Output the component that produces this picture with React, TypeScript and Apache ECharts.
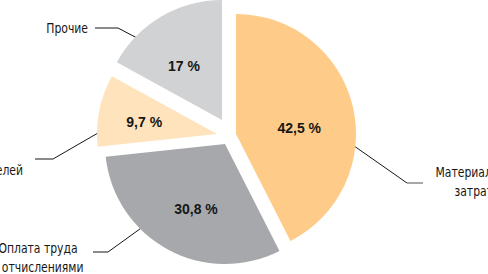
import React, { useEffect, useRef } from "react";
import * as echarts from "echarts";

// ---- data ----
const categories = [
  "Материальные\nзатраты",
  "Оплата труда\nс отчислениями",
  "Ремонт двигателей",
  "Прочие",
];
const values = [42.5, 30.8, 9.7, 17];
const colors = ["#FECC88", "#A7A8AB", "#FFE3BC", "#D1D2D4"];

// ---- layout (positions/styles only) ----
const FONT = "'DejaVu Sans Condensed', 'Liberation Sans', sans-serif";
const BOLD_FONT = "'Liberation Sans', 'DejaVu Sans Condensed', sans-serif";
const TEXT = "#161616";
const RADIUS = 120;
const centers: [number, number][] = [
  [236, 134],
  [225, 144],
  [217, 134],
  [222, 120],
];
const innerShift: number[][] = [
  [2, 9],
  [1, 10],
  [-11, 0],
  [-6, 0],
];
const outerText = [
  { x: 478, y: 181.5, align: "center" },
  { x: 38, y: 257.5, align: "center" },
  { x: 23, y: 170, align: "right" },
  { x: 88, y: 28.5, align: "right" },
];
const leaders: number[][][] = [
  [[337, 134], [407, 183]],
  [[162, 213], [108, 252], [93, 252]],
  [[117, 122], [53, 159], [35, 159]],
  [[156, 48], [118, 28], [95, 28]],
];

const fmt = (v: number) => String(v).replace(".", ",") + " %";

export default function App() {
  const ref = useRef<HTMLDivElement>(null);
  useEffect(() => {
    if (!ref.current) return;
    const chart = echarts.init(ref.current, undefined, { renderer: "svg" });
    const series = categories.map((_, i) => ({
      type: "pie",
      center: centers[i],
      radius: [0, RADIUS],
      startAngle: 90,
      clockwise: true,
      silent: true,
      avoidLabelOverlap: false,
      emphasis: { disabled: true },
      labelLine: { show: false },
      label: { show: false },
      labelLayout: { dx: innerShift[i][0], dy: innerShift[i][1] },
      data: values.map((v, j) => ({
        name: categories[j],
        value: v,
        itemStyle: { color: j === i ? colors[j] : "rgba(0,0,0,0)", borderWidth: 0 },
        label:
          j === i
            ? {
                show: true,
                position: "inside",
                formatter: (p: any) => fmt(p.value),
                fontFamily: BOLD_FONT,
                fontSize: 14,
                fontWeight: "bold",
                color: TEXT,
              }
            : { show: false },
      })),
    }));

    const graphics: any[] = [];
    categories.forEach((name, i) => {
      graphics.push({
        type: "text",
        x: outerText[i].x,
        y: outerText[i].y,
        scaleX: 0.86,
        silent: true,
        style: {
          text: name,
          fill: TEXT,
          font: `14px ${FONT}`,
          align: outerText[i].align,
          verticalAlign: "middle",
          lineHeight: 19,
        },
      });
      graphics.push({
        type: "polyline",
        silent: true,
        shape: { points: leaders[i] },
        style: { stroke: TEXT, lineWidth: 1, fill: "none" },
      });
    });
    graphics.push({
      type: "line",
      silent: true,
      shape: { x1: 407, y1: 183, x2: 423, y2: 183 },
      style: { stroke: "#8a8a8a", lineWidth: 1.5 },
    });

    chart.setOption({
      animation: false,
      backgroundColor: "#ffffff",
      series,
      graphic: { elements: graphics },
    });
    return () => chart.dispose();
  }, []);
  return (
    <div
      ref={ref}
      style={{ position: "absolute", left: 0, top: 0, width: 488, height: 274 }}
    />
  );
}
